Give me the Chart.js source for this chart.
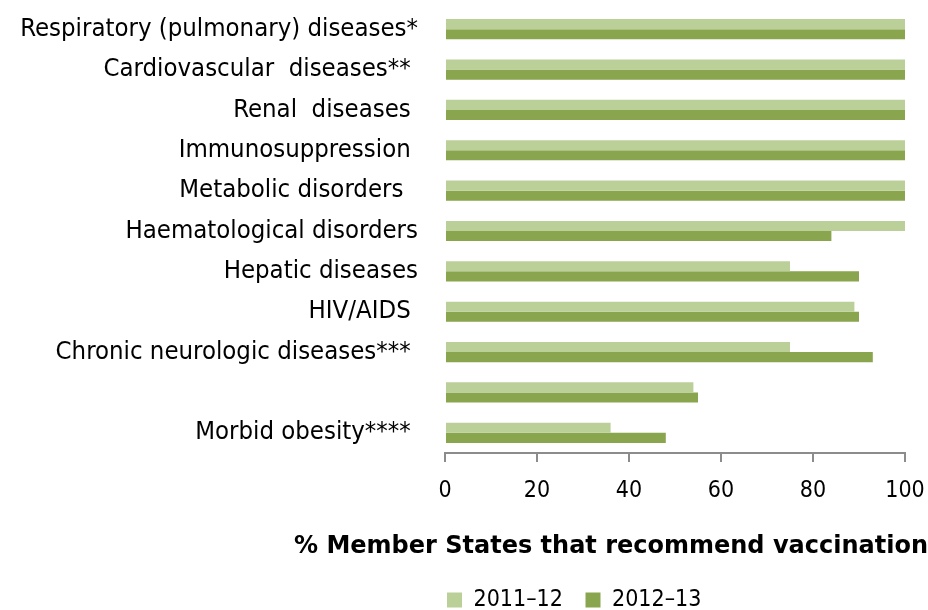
<!DOCTYPE html>
<html><head><meta charset="utf-8">
<script src="https://cdn.jsdelivr.net/npm/chart.js@4"></script>
<style>html,body{margin:0;padding:0;background:#fff;}</style>
</head><body>
<canvas id="c" width="928" height="610"></canvas>
<script>
const categories = [
  "Respiratory (pulmonary) diseases*",
  "Cardiovascular  diseases** ",
  "Renal  diseases ",
  "Immunosuppression ",
  "Metabolic disorders  ",
  "Haematological disorders",
  "Hepatic diseases",
  "HIV/AIDS ",
  "Chronic neurologic diseases*** ",
  "",
  "Morbid obesity**** "
];
const series2011 = [100, 100, 100, 100, 100, 100, 75, 89, 75, 54, 36];
const series2012 = [100, 100, 100, 100, 100, 84, 90, 90, 93, 55, 48];
const seriesNames = ["2011–12", "2012–13"];
const xTicks = [0, 20, 40, 60, 80, 100];
const axisTitle = "% Member States that recommend vaccination";

const FONT = '"DejaVu Sans Condensed", "DejaVu Sans", sans-serif';
const TITLE_FONT = '"DejaVu Sans", sans-serif';
const LIGHT = '#BBCF98';
const DARK = '#89A54E';
const AXIS = '#8c8c8c';
const LEGEND_GAP = '\u2002\u2002';

const titlePlugin = {
  id: 'xTitle',
  afterDraw(chart) {
    const ctx = chart.ctx;
    ctx.save();
    ctx.font = 'bold 24px ' + TITLE_FONT;
    ctx.fillStyle = '#000';
    ctx.textAlign = 'center';
    ctx.textBaseline = 'middle';
    ctx.fillText(axisTitle, 611, 547);
    ctx.restore();
  }
};

new Chart(document.getElementById('c'), {
  type: 'bar',
  data: {
    labels: categories,
    datasets: [
      { label: seriesNames[0], data: series2011, backgroundColor: LIGHT, borderWidth: 0 },
      { label: seriesNames[1], data: series2012, backgroundColor: DARK, borderWidth: 0 }
    ]
  },
  options: {
    indexAxis: 'y',
    responsive: false,
    animation: false,
    devicePixelRatio: 1,
    categoryPercentage: 0.5,
    barPercentage: 1.0,
    layout: { padding: { top: 9, right: 23, bottom: 0, left: 0 } },
    plugins: {
      tooltip: { enabled: false },
      legend: {
        position: 'bottom',
        align: 'start',
        fullSize: false,
        maxHeight: 23.5,
        labels: {
          boxWidth: 15, boxHeight: 15, padding: 2,
          color: '#000',
          font: { family: FONT, size: 23 },
          generateLabels(chart) {
            const items = Chart.defaults.plugins.legend.labels.generateLabels(chart);
            items.forEach((it, i) => { if (i < items.length - 1) it.text = it.text + LEGEND_GAP; });
            return items;
          }
        }
      }
    },
    scales: {
      x: {
        type: 'linear',
        min: 0, max: 100,
        afterBuildTicks: (s) => { s.ticks = xTicks.map(v => ({ value: v })); },
        afterFit: (s) => { s.height = 133.5; s.paddingLeft = 0; s.paddingRight = 0; },
        grid: { display: true, drawOnChartArea: false, drawTicks: true, tickLength: 9, color: AXIS, lineWidth: 2 },
        border: { display: true, color: AXIS, width: 2 },
        ticks: { color: '#000', padding: 15, font: { family: FONT, size: 23 }, maxRotation: 0 }
      },
      y: {
        afterFit: (s) => { s.width = 445; s.paddingTop = 0; s.paddingBottom = 0; },
        grid: { display: false, tickLength: 0 },
        border: { display: false },
        ticks: { color: '#000', padding: 27, autoSkip: false, font: { family: FONT, size: 25.5 } }
      }
    }
  },
  plugins: [titlePlugin]
});
</script>
</body></html>
